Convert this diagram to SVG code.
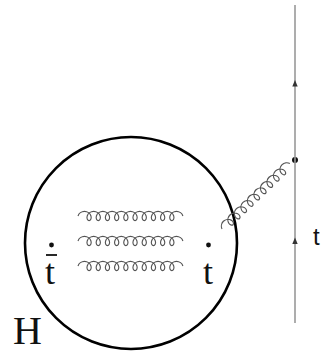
<svg xmlns="http://www.w3.org/2000/svg" width="323" height="353" viewBox="0 0 323 353">
<defs>
<style>
.gl{fill:none;stroke:#555;stroke-width:1.1}
.serif{font-family:"Liberation Serif","Times New Roman",serif;fill:#111}
.sans{font-family:"Liberation Sans",Arial,sans-serif;fill:#111}
.arr{fill:#333}
</style>
<path id="gluon10" d="M0,0 c 0.73,-2.09 3.37,-4 6.2,-4 c 2.83,0 5.47,1.91 6.2,4 c 0.73,2.09 -0.44,4 -1.8,4
c -1.36,0 -2.53,-1.91 -1.8,-4 c 0.73,-2.09 3.37,-4 6.2,-4 c 2.83,0 5.47,1.91 6.2,4 c 0.73,2.09 -0.44,4 -1.8,4
c -1.36,0 -2.53,-1.91 -1.8,-4 c 0.73,-2.09 3.37,-4 6.2,-4 c 2.83,0 5.47,1.91 6.2,4 c 0.73,2.09 -0.44,4 -1.8,4
c -1.36,0 -2.53,-1.91 -1.8,-4 c 0.73,-2.09 3.37,-4 6.2,-4 c 2.83,0 5.47,1.91 6.2,4 c 0.73,2.09 -0.44,4 -1.8,4
c -1.36,0 -2.53,-1.91 -1.8,-4 c 0.73,-2.09 3.37,-4 6.2,-4 c 2.83,0 5.47,1.91 6.2,4 c 0.73,2.09 -0.44,4 -1.8,4
c -1.36,0 -2.53,-1.91 -1.8,-4 c 0.73,-2.09 3.37,-4 6.2,-4 c 2.83,0 5.47,1.91 6.2,4 c 0.73,2.09 -0.44,4 -1.8,4
c -1.36,0 -2.53,-1.91 -1.8,-4 c 0.73,-2.09 3.37,-4 6.2,-4 c 2.83,0 5.47,1.91 6.2,4 c 0.73,2.09 -0.44,4 -1.8,4
c -1.36,0 -2.53,-1.91 -1.8,-4 c 0.73,-2.09 3.37,-4 6.2,-4 c 2.83,0 5.47,1.91 6.2,4 c 0.73,2.09 -0.44,4 -1.8,4
c -1.36,0 -2.53,-1.91 -1.8,-4 c 0.73,-2.09 3.37,-4 6.2,-4 c 2.83,0 5.47,1.91 6.2,4 c 0.73,2.09 -0.44,4 -1.8,4
c -1.36,0 -2.53,-1.91 -1.8,-4 c 0.73,-2.09 3.37,-4 6.2,-4 c 2.83,0 5.47,1.91 6.2,4 c 0.73,2.09 -0.44,4 -1.8,4
c -1.36,0 -2.53,-1.91 -1.8,-4 c 0.73,-2.09 3.37,-4 6.2,-4 c 2.83,0 5.47,1.91 6.2,4"/>
<path id="gluon9" d="M0,0 c 0.73,-2.09 3.37,-4 6.2,-4 c 2.83,0 5.47,1.91 6.2,4 c 0.73,2.09 -0.44,4 -1.8,4
c -1.36,0 -2.53,-1.91 -1.8,-4 c 0.73,-2.09 3.37,-4 6.2,-4 c 2.83,0 5.47,1.91 6.2,4 c 0.73,2.09 -0.44,4 -1.8,4
c -1.36,0 -2.53,-1.91 -1.8,-4 c 0.73,-2.09 3.37,-4 6.2,-4 c 2.83,0 5.47,1.91 6.2,4 c 0.73,2.09 -0.44,4 -1.8,4
c -1.36,0 -2.53,-1.91 -1.8,-4 c 0.73,-2.09 3.37,-4 6.2,-4 c 2.83,0 5.47,1.91 6.2,4 c 0.73,2.09 -0.44,4 -1.8,4
c -1.36,0 -2.53,-1.91 -1.8,-4 c 0.73,-2.09 3.37,-4 6.2,-4 c 2.83,0 5.47,1.91 6.2,4 c 0.73,2.09 -0.44,4 -1.8,4
c -1.36,0 -2.53,-1.91 -1.8,-4 c 0.73,-2.09 3.37,-4 6.2,-4 c 2.83,0 5.47,1.91 6.2,4 c 0.73,2.09 -0.44,4 -1.8,4
c -1.36,0 -2.53,-1.91 -1.8,-4 c 0.73,-2.09 3.37,-4 6.2,-4 c 2.83,0 5.47,1.91 6.2,4 c 0.73,2.09 -0.44,4 -1.8,4
c -1.36,0 -2.53,-1.91 -1.8,-4 c 0.73,-2.09 3.37,-4 6.2,-4 c 2.83,0 5.47,1.91 6.2,4 c 0.73,2.09 -0.44,4 -1.8,4
c -1.36,0 -2.53,-1.91 -1.8,-4 c 0.73,-2.09 3.37,-4 6.2,-4 c 2.83,0 5.47,1.91 6.2,4 c 0.73,2.09 -0.44,4 -1.8,4
c -1.36,0 -2.53,-1.91 -1.8,-4 c 0.73,-2.09 3.37,-4 6.2,-4 c 2.83,0 5.47,1.91 6.2,4"/>
</defs>
<g id="hadron">
<circle cx="131" cy="243" r="106" fill="none" stroke="#000" stroke-width="2.6"/>
</g>
<g id="label-H"><text class="serif" x="13" y="344" font-size="40">H</text></g>
<g id="tbar">
<circle cx="51.5" cy="245" r="2.4" fill="#111"/>
<line x1="46" y1="255" x2="57" y2="255" stroke="#111" stroke-width="1.8"/>
<text class="serif" x="50" y="284" font-size="36" text-anchor="middle">t</text>
</g>
<g id="tquark">
<circle cx="208.5" cy="245" r="2.4" fill="#111"/>
<text class="serif" x="208" y="284" font-size="36" text-anchor="middle">t</text>
</g>
<g id="label-t-line"><text class="sans" x="313" y="245" font-size="24">t</text></g>
<g id="vertex"><circle cx="295" cy="160" r="3" fill="#111"/></g>
<g id="connectors">
<line x1="295" y1="5" x2="295" y2="323" stroke="#999" stroke-width="1.6"/>
<polygon class="arr" points="295,80 292.3,86.5 297.7,86.5"/>
<polygon class="arr" points="295,237.5 292.3,244 297.7,244"/>
<use href="#gluon10" class="gl" transform="translate(78,216) scale(1.045,1.15)"/>
<use href="#gluon10" class="gl" transform="translate(78,241) scale(1.045,1.15)"/>
<use href="#gluon10" class="gl" transform="translate(78,266) scale(1.045,1.15)"/>
<use href="#gluon9" class="gl" transform="translate(222,229) rotate(-44) scale(1.03,1.15)"/>
</g>
</svg>
